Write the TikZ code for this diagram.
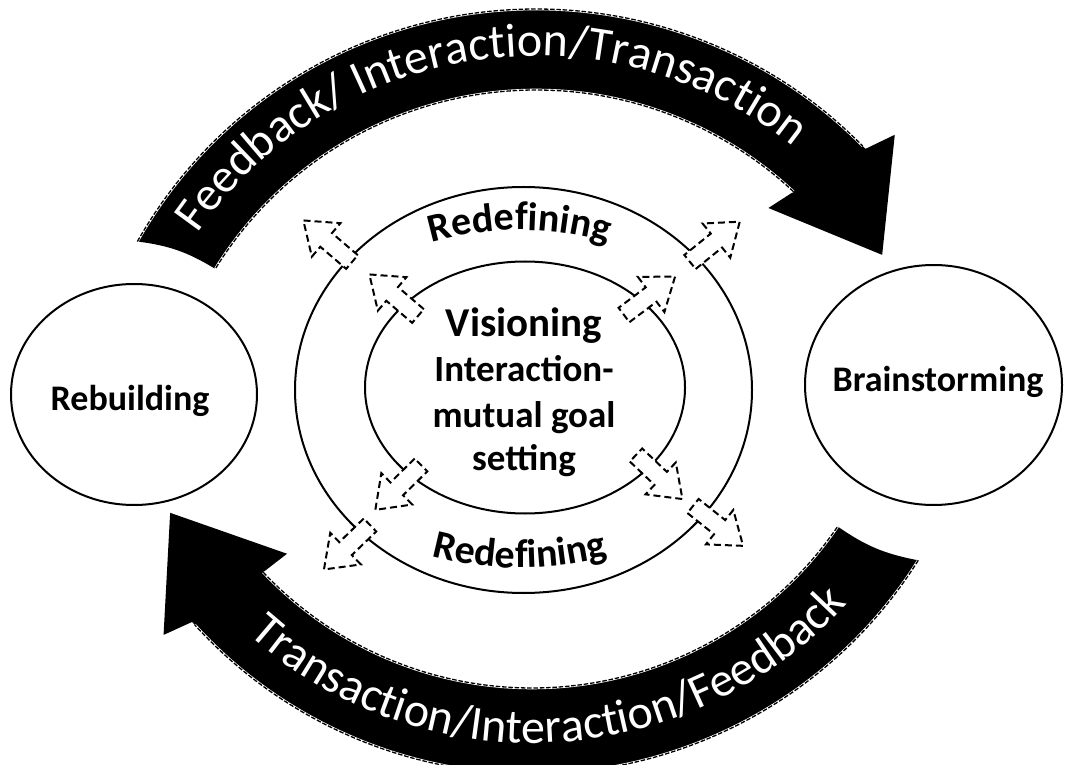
\documentclass[tikz,border=0pt]{standalone}
\usepackage{fontspec}
\setmainfont{Carlito}
\usetikzlibrary{decorations.text,shapes.geometric}
\begin{document}
\begin{tikzpicture}[x=1pt,y=1pt,
  ring/.style={draw=black, line width=2pt, ellipse, inner sep=0pt},
  bandhalo/.style={draw=white, line width=2.6pt},
  bandedge/.style={draw=black, line width=1.3pt, dash pattern=on 4.5pt off 1.8pt},
  boldtext/.style={font=\bfseries\fontsize{36}{40}\selectfont, inner sep=0pt},
  pics/burst/.style={code={
    \draw[fill=white, line width=2pt, dash pattern=on 7pt off 4pt, line join=miter]
      (0,-9) -- (34,-9) -- (34,-22) -- (64,0) -- (34,22) -- (34,9) -- (0,9) -- cycle;}},
]
\useasboundingbox (0,0) rectangle (1065,764);
\clip (0,0) rectangle (1065,764);

% upper band: Feedback / Interaction / Transaction
\begin{scope}[shift={(536,297)}]
  \coordinate (upc) at (0,0);
  \fill (150.5:458) arc[start angle=150.5,end angle=44,radius=458]
    -- (42.8:489) -- (31.5:406) -- (48.1:348) -- (46.9:377)
    arc[start angle=46.9,end angle=148.3,radius=377]
    to[bend right=12] (150.5:458) -- cycle;
  \draw[bandhalo] (150.5:458) arc[start angle=150.5,end angle=44.5,radius=458];
  \draw[bandedge] (150.5:458) arc[start angle=150.5,end angle=44.5,radius=458];
  \draw[bandhalo] (46.9:377) arc[start angle=46.9,end angle=148.3,radius=377];
  \draw[bandedge] (46.9:377) arc[start angle=46.9,end angle=148.3,radius=377];
  \path[decorate, decoration={text along path, text align=center,
    text={|\color{white}\fontsize{48}{48}\selectfont|Feedback/ Interaction/Transaction}}]
    (148.3:411) arc[start angle=148.3,end angle=48.3,radius=411];
\end{scope}

% lower band: Transaction / Interaction / Feedback
\begin{scope}[shift={(532,446)}]
  \coordinate (lowc) at (0,0);
  \fill (327.9:456) arc[start angle=327.9,end angle=221.8,radius=456]
    -- (220.7:486) -- (208.3:411) -- (223.9:340) -- (223.4:370)
    arc[start angle=223.4,end angle=325.7,radius=370]
    to[bend right=12] (327.9:456) -- cycle;
  \draw[bandhalo] (327.9:456) arc[start angle=327.9,end angle=222.3,radius=456];
  \draw[bandedge] (327.9:456) arc[start angle=327.9,end angle=222.3,radius=456];
  \draw[bandhalo] (223.4:370) arc[start angle=223.4,end angle=325.7,radius=370];
  \draw[bandedge] (223.4:370) arc[start angle=223.4,end angle=325.7,radius=370];
  \path[decorate, decoration={text along path, text align=center,
    text={|\color{white}\fontsize{48}{48}\selectfont|Transaction/Interaction/Feedback}}]
    (223:425) arc[start angle=223,end angle=323,radius=425];
\end{scope}

% side stages
\node[ring, minimum width=246, minimum height=221] (rebuild) at (134,369.5) {};
\node[ring, minimum width=257, minimum height=240] (brain) at (933.5,379) {};
\node[boldtext, anchor=base] (rebuildtxt) at (130,354) {Rebuilding};
\node[boldtext, anchor=base] (braintxt) at (938,372) {Brainstorming};

% central rings
\node[ring, minimum width=457, minimum height=406] (outer) at (523.5,374) {};
\node[ring, minimum width=320, minimum height=252] (inner) at (525,376.5) {};

% outward dashed block arrows
\pic[rotate=39]    at (690,502) {burst};
\pic[rotate=37]    at (624,449) {burst};
\pic[rotate=139.5] at (352,502) {burst};
\pic[rotate=139.5] at (418,448) {burst};
\pic[rotate=224.5] at (421,299) {burst};
\pic[rotate=224]   at (370,239) {burst};
\pic[rotate=-43.5] at (636,309) {burst};
\pic[rotate=-38.5] at (693,258) {burst};

% ring labels
\path[decorate, decoration={text along path, text align=center,
  text={|\bfseries\fontsize{40}{40}\selectfont|Redefining}}]
  (361,491.4) arc[start angle=120,end angle=60,radius=318];
\path[decorate, decoration={text along path, text align=center,
  text={|\bfseries\fontsize{40}{40}\selectfont|Redefining}}]
  (350,241.6) arc[start angle=240,end angle=300,radius=340];

% core text
\node[font=\bfseries\fontsize{41}{44}\selectfont, anchor=base, inner sep=0pt] (vis) at (524,427) {Visioning};
\node[font=\bfseries\fontsize{37}{44}\selectfont, anchor=base, inner sep=0pt] (vis2) at (524,382) {Interaction-};
\node[font=\bfseries\fontsize{37}{44}\selectfont, anchor=base, inner sep=0pt] (vis3) at (524,337) {mutual goal};
\node[font=\bfseries\fontsize{37}{44}\selectfont, anchor=base, inner sep=0pt] (vis4) at (524,294) {setting};
\end{tikzpicture}
\end{document}
